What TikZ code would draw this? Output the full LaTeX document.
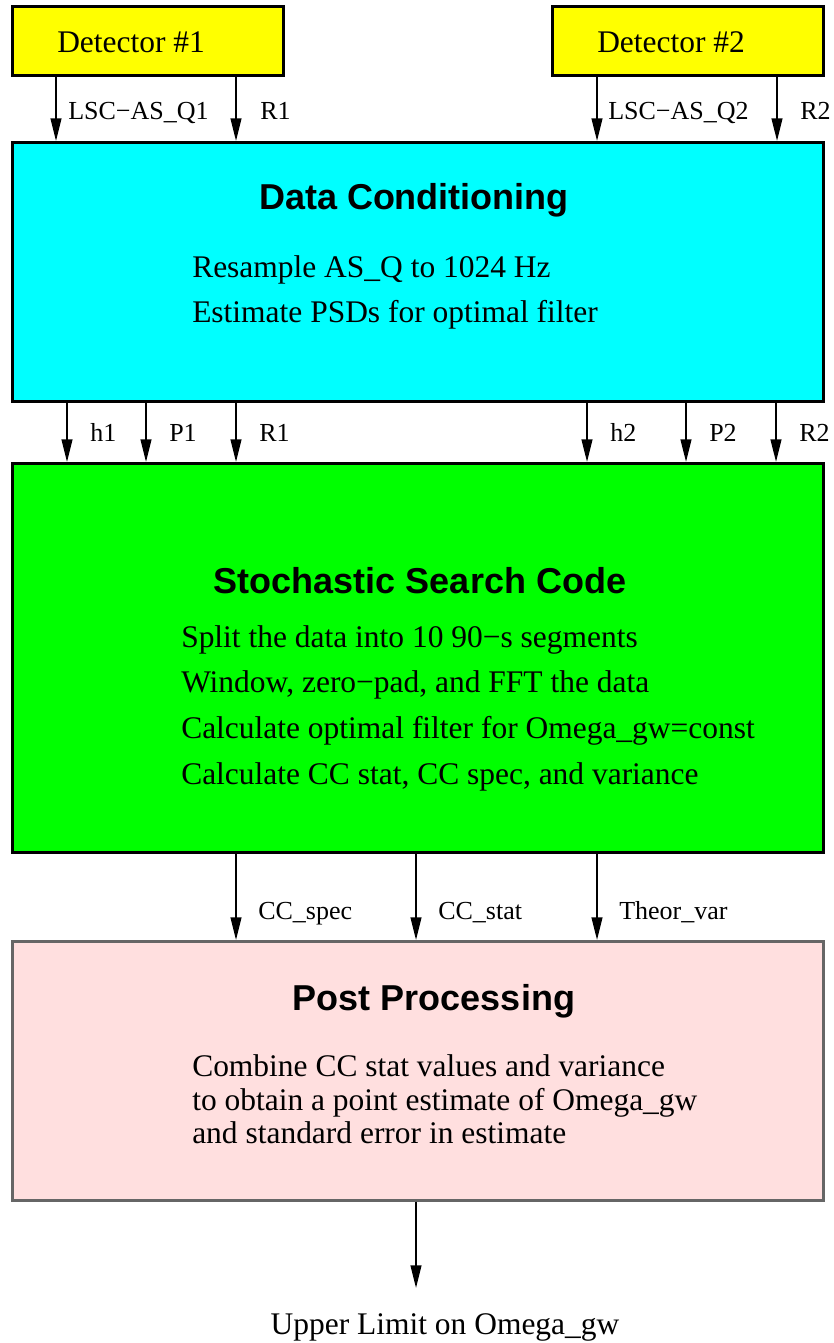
\documentclass[tikz,border=0pt]{standalone}
\usepackage{fontspec}
\setmainfont{Liberation Serif}
\setsansfont{Liberation Sans}
\usetikzlibrary{arrows.meta}
\definecolor{detyellow}{RGB}{255,255,0}
\definecolor{condcyan}{RGB}{0,255,255}
\definecolor{searchgreen}{RGB}{0,255,0}
\definecolor{postpink}{RGB}{255,223,223}

\begin{document}
\begin{tikzpicture}[x=0.75pt, y=-0.75pt,
    box/.style={draw=black, line width=2pt, anchor=north west, inner sep=0pt, minimum width=608.25pt},
    flow/.style={-{Triangle[length=17pt, width=8pt]}, line width=1.5pt},
    lbl/.style={anchor=base west, inner sep=0pt, font=\fontsize{19.5}{20}\selectfont},
    txt/.style={anchor=base west, inner sep=0pt, font=\fontsize{23.6}{24}\selectfont},
    title/.style={anchor=base, inner sep=0pt, font=\fontsize{27}{28}\selectfont\sffamily\bfseries}]
    \useasboundingbox (0,0) rectangle (834,1343);

    % Detectors
    \node[box, fill=detyellow, minimum width=203.25pt, minimum height=51.75pt] (det1) at (11,5) {};
    \node[box, fill=detyellow, minimum width=203.25pt, minimum height=51.75pt] (det2) at (551,5) {};
    \node[txt] (det1-name) at (57,52) {Detector \#1};
    \node[txt] (det2-name) at (597,52) {Detector \#2};

    % Processing blocks
    \node[box, fill=condcyan, minimum height=194.25pt] (cond) at (11,141) {};
    \node[box, fill=searchgreen, minimum height=291.75pt] (search) at (11,462) {};
    \node[box, draw=black!60, fill=postpink, minimum height=194.25pt] (post) at (11,940) {};

    \node[title] (cond-title) at (414,209) {Data Conditioning};
    \node[title] (search-title) at (420,593) {Stochastic Search Code};
    \node[title] (post-title) at (434,1010) {Post Processing};

    \foreach \i/\y/\t in {1/277/Resample AS\_Q to 1024 Hz, 2/322/Estimate PSDs for optimal filter}
        \node[txt] (cond-\i) at (192,\y) {\t};
    \foreach \i/\y/\t in {1/647/Split the data into 10 90−s segments,
                          2/692/{Window, zero−pad, and FFT the data},
                          3/738/Calculate optimal filter for Omega\_gw=const,
                          4/784/{Calculate CC stat, CC spec, and variance}}
        \node[txt] (search-\i) at (181,\y) {\t};
    \foreach \i/\y/\t in {1/1076/Combine CC stat values and variance,
                          2/1110/to obtain a point estimate of Omega\_gw,
                          3/1143/and standard error in estimate}
        \node[txt] (post-\i) at (192,\y) {\t};

    % Channels from the detectors
    \foreach \x/\dx/\lab in {56/12/LSC−AS\_Q1, 236/24/R1} {
        \draw[flow] (\x,0 |- det1.south) -- (\x,0 |- cond.north);
        \node[lbl] (det1-\x) at ({\x+\dx},119) {\lab};
    }
    \foreach \x/\dx/\lab in {597/11/LSC−AS\_Q2, 777/23/R2} {
        \draw[flow] (\x,0 |- det2.south) -- (\x,0 |- cond.north);
        \node[lbl] (det2-\x) at ({\x+\dx},119) {\lab};
    }

    % Conditioned data
    \foreach \x/\lab in {67/h1, 146/P1, 236/R1, 587/h2, 686/P2, 776/R2} {
        \draw[flow] (\x,0 |- cond.south) -- (\x,0 |- search.north);
        \node[lbl] (cond-\x) at ({\x+23},441) {\lab};
    }

    % Search output
    \foreach \x/\lab in {236/CC\_spec, 416/CC\_stat, 597/Theor\_var} {
        \draw[flow] (\x,0 |- search.south) -- (\x,0 |- post.north);
        \node[lbl] (search-\x) at ({\x+22},919) {\lab};
    }

    % Result
    \node[txt, anchor=base] (limit) at (445,1334) {Upper Limit on Omega\_gw};
    \coordinate (limit-in) at (416,1288);
    \draw[flow] (416,0 |- post.south) -- (limit-in);
\end{tikzpicture}
\end{document}
